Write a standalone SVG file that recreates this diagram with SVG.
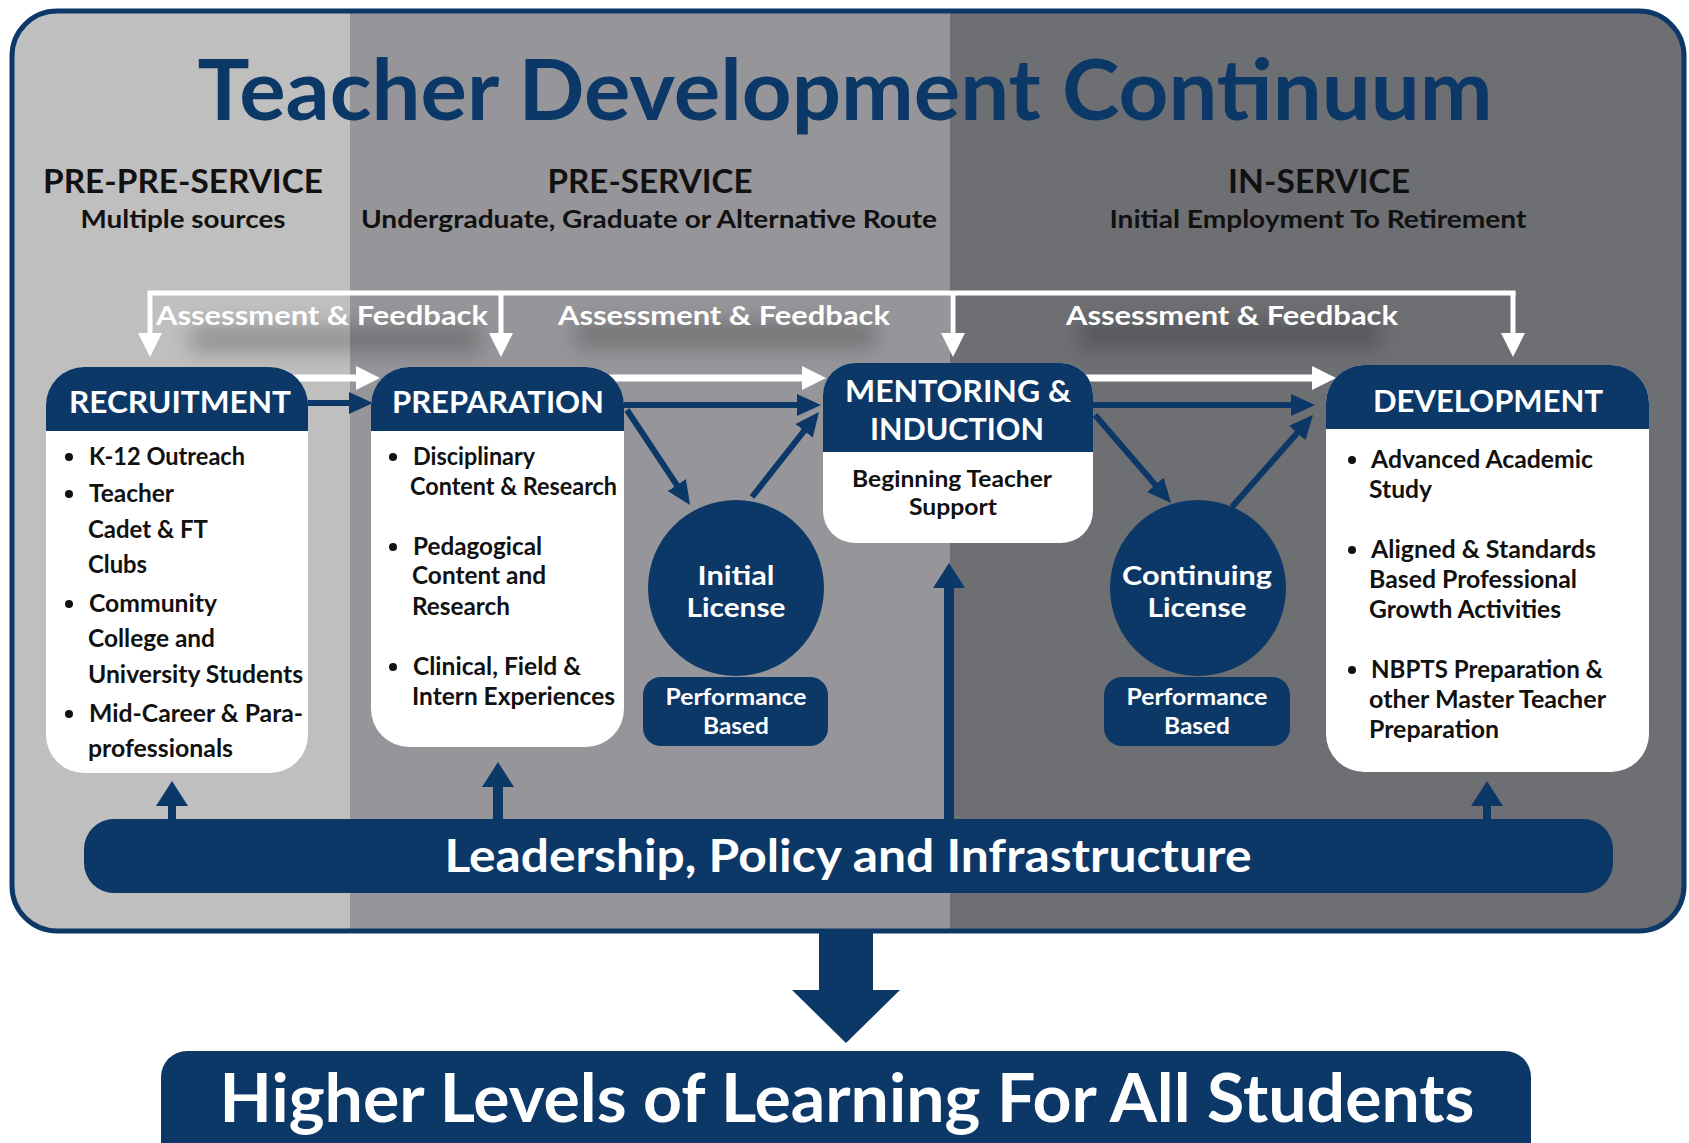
<svg xmlns="http://www.w3.org/2000/svg" width="1689" height="1143" viewBox="0 0 1689 1143">
<style>
.t{font-family:Lato,'Noto Sans','Liberation Sans',sans-serif;font-weight:700}
.w{fill:#ffffff}.k{fill:#111111}.n{fill:#0c3868}
.c{text-anchor:middle}
.hd{font-size:30px}.bd{font-size:24px}.cl{font-size:26.5px}
.navy{stroke:#0c3868;fill:none;stroke-width:6}
.wh{stroke:#ffffff;fill:none;stroke-width:7}
.af{stroke:#ffffff;fill:none;stroke-width:5}
.up{stroke:#0c3868;fill:none}
</style>
<defs>
<clipPath id="frameClip"><rect x="12" y="11" width="1672" height="920" rx="45"/></clipPath>
<filter id="blur" x="-50%" y="-100%" width="200%" height="300%"><feGaussianBlur stdDeviation="10"/></filter>
<marker id="mNavy" markerUnits="userSpaceOnUse" markerWidth="24" markerHeight="22" refX="14" refY="11" orient="auto"><path d="M0,0 L24,11 L0,22 Z" fill="#0c3868"/></marker>
<marker id="mWhite" markerUnits="userSpaceOnUse" markerWidth="24" markerHeight="24" refX="14" refY="12" orient="auto"><path d="M0,0 L24,12 L0,24 Z" fill="#ffffff"/></marker>
<marker id="mUp" markerUnits="userSpaceOnUse" markerWidth="25" markerHeight="32" refX="14" refY="16" orient="auto"><path d="M0,0 L25,16 L0,32 Z" fill="#0c3868"/></marker>
</defs>

<rect width="1689" height="1143" fill="#ffffff"/>

<g id="frame">
<g clip-path="url(#frameClip)">
<rect x="0" y="0" width="351" height="940" fill="#bfbfbf"/>
<rect x="350" y="0" width="601" height="940" fill="#96969a"/>
<rect x="950" y="0" width="740" height="940" fill="#6e6f73"/>
<rect x="190" y="325" width="290" height="28" fill="#000" opacity="0.22" filter="url(#blur)"/>
<rect x="575" y="322" width="300" height="26" fill="#000" opacity="0.22" filter="url(#blur)"/>
<rect x="1080" y="322" width="300" height="26" fill="#000" opacity="0.22" filter="url(#blur)"/>
</g>
<rect x="12" y="11" width="1672" height="920" rx="45" fill="none" stroke="#0c3868" stroke-width="5"/>
</g>

<g id="title">
<text class="t n c" x="845" y="120" font-size="84" textLength="1295" lengthAdjust="spacingAndGlyphs">Teacher Development Continuum</text>
</g>

<g id="phases">
<text class="t k c" x="183" y="193" font-size="32" textLength="280" lengthAdjust="spacingAndGlyphs">PRE-PRE-SERVICE</text>
<text class="t k c" x="183" y="228" font-size="24" textLength="205" lengthAdjust="spacingAndGlyphs">Multiple sources</text>
<text class="t k c" x="650" y="193" font-size="32" textLength="205" lengthAdjust="spacingAndGlyphs">PRE-SERVICE</text>
<text class="t k c" x="649" y="228" font-size="24" textLength="576" lengthAdjust="spacingAndGlyphs">Undergraduate, Graduate or Alternative Route</text>
<text class="t k c" x="1319" y="193" font-size="32" textLength="182" lengthAdjust="spacingAndGlyphs">IN-SERVICE</text>
<text class="t k c" x="1318" y="228" font-size="24" textLength="417" lengthAdjust="spacingAndGlyphs">Initial Employment To Retirement</text>
</g>

<g id="connectors">
<path class="af" d="M147.5,293 H1515.5"/>
<path class="af" d="M150,293 V347" marker-end="url(#mWhite)"/>
<path class="af" d="M501,293 V347" marker-end="url(#mWhite)"/>
<path class="af" d="M953,293 V347" marker-end="url(#mWhite)"/>
<path class="af" d="M1513,293 V347" marker-end="url(#mWhite)"/>
<text class="t w c" x="322" y="325" font-size="26" textLength="332" lengthAdjust="spacingAndGlyphs">Assessment &amp; Feedback</text>
<text class="t w c" x="724" y="325" font-size="26" textLength="332" lengthAdjust="spacingAndGlyphs">Assessment &amp; Feedback</text>
<text class="t w c" x="1232" y="325" font-size="26" textLength="332" lengthAdjust="spacingAndGlyphs">Assessment &amp; Feedback</text>

<path class="wh" d="M290,378 H370" marker-end="url(#mWhite)"/>
<path class="wh" d="M600,378 H816" marker-end="url(#mWhite)"/>
<path class="wh" d="M1080,378 H1326" marker-end="url(#mWhite)"/>

<path class="navy" d="M300,403 H363" marker-end="url(#mNavy)"/>
<path class="navy" d="M615,405 H811" marker-end="url(#mNavy)"/>
<path class="navy" d="M1085,405 H1305" marker-end="url(#mNavy)"/>
<path class="navy" d="M627,410 L684.5,496.7" marker-end="url(#mNavy)"/>
<path class="navy" d="M752,497 L812.8,419.9" marker-end="url(#mNavy)"/>
<path class="navy" d="M1095,415 L1164.5,495.4" marker-end="url(#mNavy)"/>
<path class="navy" d="M1232,507 L1306.4,422.5" marker-end="url(#mNavy)"/>

<path class="up" stroke-width="8" d="M172,825 V792" marker-end="url(#mUp)"/>
<path class="up" stroke-width="10" d="M498,825 V773" marker-end="url(#mUp)"/>
<path class="up" stroke-width="10" d="M949,825 V574" marker-end="url(#mUp)"/>
<path class="up" stroke-width="8" d="M1487,825 V792" marker-end="url(#mUp)"/>

<polygon points="819,931 873,931 873,990 900,990 846,1043 792,990 819,990" fill="#0c3868"/>
</g>

<g id="recruitment">
<rect x="46" y="367" width="262" height="406" rx="38" fill="#ffffff"/>
<path d="M46,431 V405 A38,38 0 0 1 84,367 H270 A38,38 0 0 1 308,405 V431 Z" fill="#0c3868"/>
<text class="t w c hd" x="180" y="413" textLength="222" lengthAdjust="spacingAndGlyphs">RECRUITMENT</text>
<g class="k">
<circle cx="69" cy="457" r="4"/><circle cx="69" cy="494" r="4"/><circle cx="69" cy="604" r="4"/><circle cx="69" cy="714" r="4"/>
</g>
<text class="t k bd" x="89" y="465" textLength="156" lengthAdjust="spacingAndGlyphs">K-12 Outreach</text>
<text class="t k bd" x="89" y="502" textLength="85" lengthAdjust="spacingAndGlyphs">Teacher</text>
<text class="t k bd" x="88" y="538" textLength="120" lengthAdjust="spacingAndGlyphs">Cadet &amp; FT</text>
<text class="t k bd" x="88" y="573" textLength="59" lengthAdjust="spacingAndGlyphs">Clubs</text>
<text class="t k bd" x="89" y="612" textLength="128" lengthAdjust="spacingAndGlyphs">Community</text>
<text class="t k bd" x="88" y="647" textLength="127" lengthAdjust="spacingAndGlyphs">College and</text>
<text class="t k bd" x="88" y="683" textLength="215" lengthAdjust="spacingAndGlyphs">University Students</text>
<text class="t k bd" x="89" y="722" textLength="214" lengthAdjust="spacingAndGlyphs">Mid-Career &amp; Para-</text>
<text class="t k bd" x="88" y="757" textLength="145" lengthAdjust="spacingAndGlyphs">professionals</text>
</g>

<g id="preparation">
<rect x="371" y="367" width="253" height="380" rx="38" fill="#ffffff"/>
<path d="M371,431 V405 A38,38 0 0 1 409,367 H586 A38,38 0 0 1 624,405 V431 Z" fill="#0c3868"/>
<text class="t w c hd" x="498" y="413" textLength="212" lengthAdjust="spacingAndGlyphs">PREPARATION</text>
<g class="k">
<circle cx="393" cy="457" r="4"/><circle cx="393" cy="547" r="4"/><circle cx="393" cy="667" r="4"/>
</g>
<text class="t k bd" x="413" y="465" textLength="122" lengthAdjust="spacingAndGlyphs">Disciplinary</text>
<text class="t k bd" x="410" y="495" textLength="207" lengthAdjust="spacingAndGlyphs">Content &amp; Research</text>
<text class="t k bd" x="413" y="555" textLength="129" lengthAdjust="spacingAndGlyphs">Pedagogical</text>
<text class="t k bd" x="412" y="584" textLength="134" lengthAdjust="spacingAndGlyphs">Content and</text>
<text class="t k bd" x="412" y="615" textLength="98" lengthAdjust="spacingAndGlyphs">Research</text>
<text class="t k bd" x="413" y="675" textLength="168" lengthAdjust="spacingAndGlyphs">Clinical, Field &amp;</text>
<text class="t k bd" x="412" y="705" textLength="203" lengthAdjust="spacingAndGlyphs">Intern Experiences</text>
</g>

<g id="initial-license">
<circle cx="736" cy="588" r="88" fill="#0c3868"/>
<text class="t w c cl" x="736" y="585" textLength="77" lengthAdjust="spacingAndGlyphs">Initial</text>
<text class="t w c cl" x="736" y="617" textLength="99" lengthAdjust="spacingAndGlyphs">License</text>
</g>
<g id="initial-performance">
<rect x="643" y="677" width="185" height="69" rx="18" fill="#0c3868"/>
<text class="t w c" x="736" y="705" font-size="22" textLength="141" lengthAdjust="spacingAndGlyphs">Performance</text>
<text class="t w c" x="736" y="734" font-size="22" textLength="66" lengthAdjust="spacingAndGlyphs">Based</text>
</g>

<g id="mentoring">
<rect x="823" y="363" width="270" height="180" rx="32" fill="#ffffff"/>
<path d="M823,452 V395 A32,32 0 0 1 855,363 H1061 A32,32 0 0 1 1093,395 V452 Z" fill="#0c3868"/>
<text class="t w c hd" x="958" y="402" textLength="226" lengthAdjust="spacingAndGlyphs">MENTORING &amp;</text>
<text class="t w c hd" x="957" y="440" textLength="174" lengthAdjust="spacingAndGlyphs">INDUCTION</text>
<text class="t k c" x="952" y="487" font-size="23" textLength="200" lengthAdjust="spacingAndGlyphs">Beginning Teacher</text>
<text class="t k c" x="953" y="515" font-size="23" textLength="88" lengthAdjust="spacingAndGlyphs">Support</text>
</g>

<g id="continuing-license">
<circle cx="1198" cy="588" r="88" fill="#0c3868"/>
<text class="t w c cl" x="1197" y="585" textLength="150" lengthAdjust="spacingAndGlyphs">Continuing</text>
<text class="t w c cl" x="1197" y="617" textLength="99" lengthAdjust="spacingAndGlyphs">License</text>
</g>
<g id="continuing-performance">
<rect x="1104" y="677" width="186" height="69" rx="18" fill="#0c3868"/>
<text class="t w c" x="1197" y="705" font-size="22" textLength="141" lengthAdjust="spacingAndGlyphs">Performance</text>
<text class="t w c" x="1197" y="734" font-size="22" textLength="66" lengthAdjust="spacingAndGlyphs">Based</text>
</g>

<g id="development">
<rect x="1326" y="365" width="323" height="407" rx="38" fill="#ffffff"/>
<path d="M1326,429 V403 A38,38 0 0 1 1364,365 H1611 A38,38 0 0 1 1649,403 V429 Z" fill="#0c3868"/>
<text class="t w c hd" x="1488" y="412" textLength="230" lengthAdjust="spacingAndGlyphs">DEVELOPMENT</text>
<g class="k">
<circle cx="1352" cy="460" r="4"/><circle cx="1352" cy="550" r="4"/><circle cx="1352" cy="670" r="4"/>
</g>
<text class="t k bd" x="1371" y="468" textLength="222" lengthAdjust="spacingAndGlyphs">Advanced Academic</text>
<text class="t k bd" x="1369" y="498" textLength="63" lengthAdjust="spacingAndGlyphs">Study</text>
<text class="t k bd" x="1371" y="558" textLength="225" lengthAdjust="spacingAndGlyphs">Aligned &amp; Standards</text>
<text class="t k bd" x="1369" y="588" textLength="208" lengthAdjust="spacingAndGlyphs">Based Professional</text>
<text class="t k bd" x="1369" y="618" textLength="192" lengthAdjust="spacingAndGlyphs">Growth Activities</text>
<text class="t k bd" x="1371" y="678" textLength="232" lengthAdjust="spacingAndGlyphs">NBPTS Preparation &amp;</text>
<text class="t k bd" x="1369" y="708" textLength="237" lengthAdjust="spacingAndGlyphs">other Master Teacher</text>
<text class="t k bd" x="1369" y="738" textLength="130" lengthAdjust="spacingAndGlyphs">Preparation</text>
</g>

<g id="leadership">
<rect x="84" y="819" width="1529" height="74" rx="30" fill="#0c3868"/>
<text class="t w c" x="848" y="872" font-size="46" textLength="807" lengthAdjust="spacingAndGlyphs">Leadership, Policy and Infrastructure</text>
</g>

<g id="outcome">
<rect x="161" y="1051" width="1370" height="120" rx="26" fill="#0c3868"/>
<text class="t w c" x="847" y="1122" font-size="66" textLength="1255" lengthAdjust="spacingAndGlyphs">Higher Levels of Learning For All Students</text>
</g>
</svg>
